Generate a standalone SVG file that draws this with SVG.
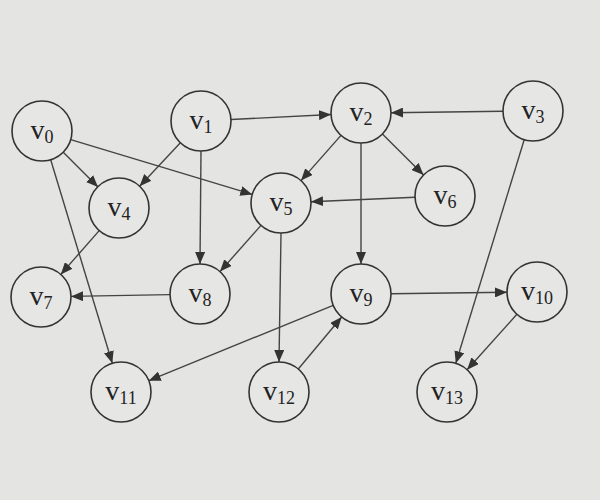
<svg xmlns="http://www.w3.org/2000/svg" width="600" height="500" viewBox="0 0 600 500">
<defs>
<style>
.n circle{fill:#e6e6e4;stroke:#333;stroke-width:1.6}
.n text{font-family:"Liberation Serif",serif;font-size:28px;fill:#222;text-anchor:middle}
.n tspan.s{font-size:18px}
#edges line{stroke:#444;stroke-width:1.4;marker-end:url(#arr)}
</style>
<marker id="arr" markerUnits="userSpaceOnUse" markerWidth="12" markerHeight="10" refX="12" refY="5" orient="auto">
<path d="M0,0 L12,5 L0,10 Z" fill="#333"/>
</marker>
</defs>
<rect width="600" height="500" fill="#e4e4e2"/>
<g id="edges">
<line x1="231" y1="119.5" x2="331" y2="114.5"/>
<line x1="503" y1="111.3" x2="391" y2="112.7"/>
<line x1="63" y1="152" x2="98" y2="187"/>
<line x1="180.4" y1="142.8" x2="139.6" y2="186.2"/>
<line x1="70.7" y1="139.6" x2="252.3" y2="194.4"/>
<line x1="341" y1="135.4" x2="301" y2="180.6"/>
<line x1="382.4" y1="134.1" x2="423.6" y2="174.9"/>
<line x1="415" y1="197.3" x2="311" y2="201.7"/>
<line x1="201" y1="151" x2="200" y2="264"/>
<line x1="261" y1="225.4" x2="220" y2="271.6"/>
<line x1="99.2" y1="230.6" x2="60.8" y2="274.4"/>
<line x1="170" y1="294.6" x2="71" y2="296.4"/>
<line x1="50.7" y1="159.7" x2="112.3" y2="363.3"/>
<line x1="361" y1="143" x2="361" y2="264"/>
<line x1="391" y1="293.7" x2="507" y2="292.3"/>
<line x1="524.2" y1="139.7" x2="455.8" y2="363.3"/>
<line x1="516.9" y1="314.3" x2="467.1" y2="369.7"/>
<line x1="281" y1="233" x2="279" y2="362"/>
<line x1="298.3" y1="369" x2="341.7" y2="317"/>
<line x1="333.2" y1="305.3" x2="148.8" y2="380.7"/>
</g>
<g id="v0" class="n"><circle cx="42" cy="131" r="30"/><text x="42" y="139">v<tspan class="s" dy="4">0</tspan></text></g>
<g id="v1" class="n"><circle cx="201" cy="121" r="30"/><text x="201" y="129">v<tspan class="s" dy="4">1</tspan></text></g>
<g id="v2" class="n"><circle cx="361" cy="113" r="30"/><text x="361" y="121">v<tspan class="s" dy="4">2</tspan></text></g>
<g id="v3" class="n"><circle cx="533" cy="111" r="30"/><text x="533" y="119">v<tspan class="s" dy="4">3</tspan></text></g>
<g id="v4" class="n"><circle cx="119" cy="208" r="30"/><text x="119" y="216">v<tspan class="s" dy="4">4</tspan></text></g>
<g id="v5" class="n"><circle cx="281" cy="203" r="30"/><text x="281" y="211">v<tspan class="s" dy="4">5</tspan></text></g>
<g id="v6" class="n"><circle cx="445" cy="196" r="30"/><text x="445" y="204">v<tspan class="s" dy="4">6</tspan></text></g>
<g id="v7" class="n"><circle cx="41" cy="297" r="30"/><text x="41" y="305">v<tspan class="s" dy="4">7</tspan></text></g>
<g id="v8" class="n"><circle cx="200" cy="294" r="30"/><text x="200" y="302">v<tspan class="s" dy="4">8</tspan></text></g>
<g id="v9" class="n"><circle cx="361" cy="294" r="30"/><text x="361" y="302">v<tspan class="s" dy="4">9</tspan></text></g>
<g id="v10" class="n"><circle cx="537" cy="292" r="30"/><text x="537" y="300">v<tspan class="s" dy="4">10</tspan></text></g>
<g id="v11" class="n"><circle cx="121" cy="392" r="30"/><text x="121" y="400">v<tspan class="s" dy="4">11</tspan></text></g>
<g id="v12" class="n"><circle cx="279" cy="392" r="30"/><text x="279" y="400">v<tspan class="s" dy="4">12</tspan></text></g>
<g id="v13" class="n"><circle cx="447" cy="392" r="30"/><text x="447" y="400">v<tspan class="s" dy="4">13</tspan></text></g>
</svg>
